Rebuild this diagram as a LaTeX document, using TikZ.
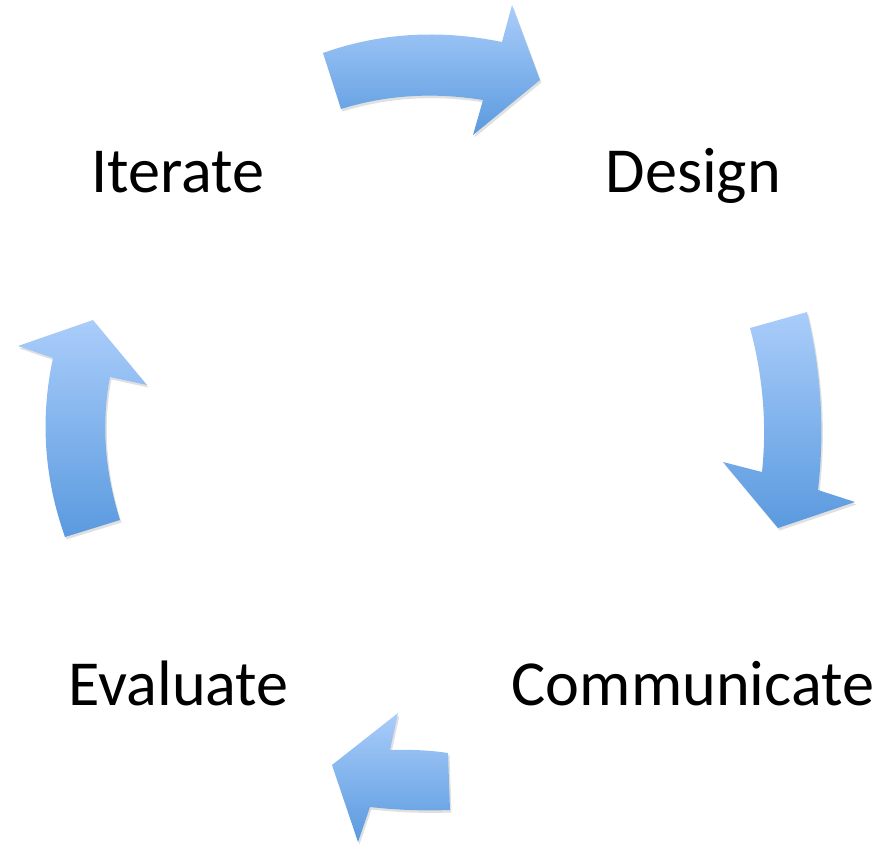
\documentclass[tikz,border=0pt]{standalone}
\usepackage{fontspec}
\setmainfont{Carlito}
\usetikzlibrary{shadows}
\definecolor{arrowtop}{HTML}{AACDFA}
\definecolor{arrowbot}{HTML}{5A9ADF}
\tikzset{
  cyclearrow/.style={top color=arrowtop, bottom color=arrowbot, draw=none,
    drop shadow={shadow xshift=1.5pt, shadow yshift=-2.5pt, opacity=0.12, fill=black}},
  stage/.style={font=\fontsize{64.2}{70}\selectfont, inner sep=0pt, anchor=base west}
}
\begin{document}
\begin{tikzpicture}[x=1pt, y=-1pt]
\useasboundingbox (0,0) rectangle (877,844);

% stage labels
\node[stage] (iterate) at (91.5,192) {Iterate};
\node[stage] (design) at (605.5,192) {Design};
\node[stage] (evaluate) at (68.5,705) {Evaluate};
\node[stage] (communicate) at (511.5,705) {Communicate};

% Iterate -> Design
\path[cyclearrow] (323,53) .. controls (379,33) and (439,29) .. (502,42)
  -- (512,5) -- (540,80) -- (473,135) -- (483,100)
  .. controls (433,92) and (386,95) .. (341,109) -- cycle;

% Design -> Communicate
\path[cyclearrow] (750,328) -- (807,312)
  .. controls (821,370) and (825,429) .. (818,490)
  -- (855,502) -- (778,528) -- (723,462) -- (762,472)
  .. controls (767,424) and (763,376) .. (750,328) -- cycle;

% Communicate -> Evaluate
\path[cyclearrow] (448,753) -- (450,810)
  .. controls (423,811) and (397,810) .. (370,807)
  -- (358,842) -- (332,765) -- (398,713) -- (390,750)
  .. controls (409,749.5) and (429,750) .. (448,753) -- cycle;

% Evaluate -> Iterate
\path[cyclearrow] (65,537) -- (120,520)
  .. controls (105,472) and (101,424) .. (110,377)
  -- (147,385) -- (93,320) -- (18,346) -- (53,358)
  .. controls (40,418) and (44,478) .. (65,537) -- cycle;
\end{tikzpicture}
\end{document}
